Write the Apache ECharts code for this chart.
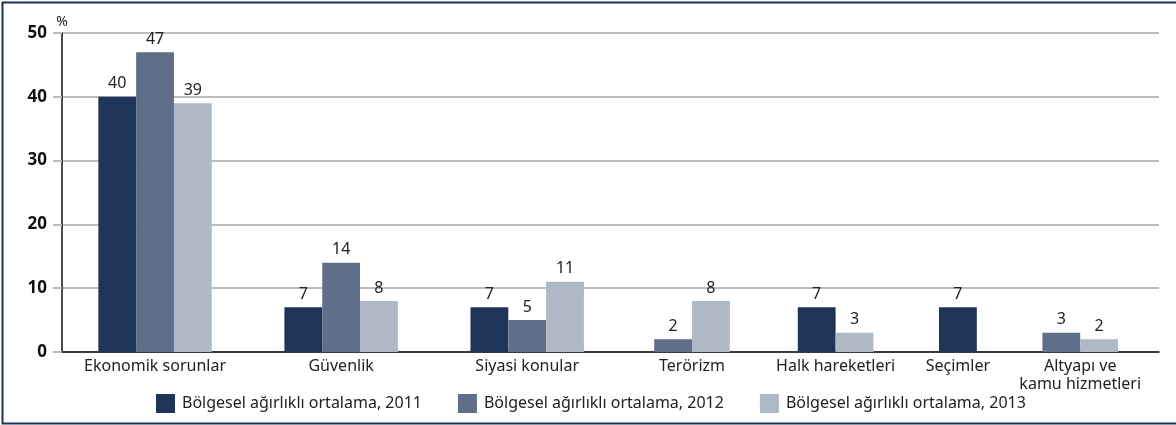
<!DOCTYPE html>
<html>
<head>
<meta charset="utf-8">
<script src="https://cdn.jsdelivr.net/npm/echarts@6/dist/echarts.min.js"></script>
<style>
html,body{margin:0;padding:0;background:#fff;}
#chart{width:1176px;height:425px;}
</style>
</head>
<body>
<div id="chart"></div>
<script>
// ---- data ----
const categories = ['Ekonomik sorunlar', 'Güvenlik', 'Siyasi konular', 'Terörizm', 'Halk hareketleri', 'Seçimler', 'Altyapı ve\nkamu hizmetleri'];
const seriesNames = ['Bölgesel ağırlıklı ortalama, 2011', 'Bölgesel ağırlıklı ortalama, 2012', 'Bölgesel ağırlıklı ortalama, 2013'];
const values2011 = [40, 7, 7, null, 7, 7, null];
const values2012 = [47, 14, 5, 2, null, null, 3];
const values2013 = [39, 8, 11, 8, 3, null, 2];
const yTicks = [0, 10, 20, 30, 40, 50];

// ---- layout (bars of a category sit side by side; empty series take no room) ----
const colors = ['#1f3459', '#5f6f8a', '#afb8c5'];
const allValues = [values2011, values2012, values2013];
const CAT_PAD = 58.5, BAR_SLOT = 42.5, BAR_W = 37.8, RIGHT_PAD = 7;
const counts = categories.map((c, i) => allValues.filter(v => v[i] != null).length);
const centers = [];
let pos = 0;
counts.forEach(n => { const w = CAT_PAD + n * BAR_SLOT; centers.push(pos + w / 2); pos += w; });
const xMax = pos + RIGHT_PAD;
const seriesData = allValues.map(() => []);
categories.forEach((c, i) => {
  const present = [];
  allValues.forEach((v, s) => { if (v[i] != null) present.push(s); });
  present.forEach((s, k) => {
    seriesData[s].push([centers[i] + (k - (present.length - 1) / 2) * BAR_W, allValues[s][i]]);
  });
});
const labelOf = {};
centers.forEach((c, i) => { labelOf[c.toFixed(3)] = categories[i]; });

const FONT = 'Noto Sans';
const chart = echarts.init(document.getElementById('chart'));
chart.setOption({
  animation: false,
  textStyle: { fontFamily: FONT },
  grid: { left: 62, right: 17, top: 33, bottom: 73, containLabel: false },
  graphic: [{
    type: 'rect', left: 0, top: 0, z: 100,
    shape: { x: 1, y: 1, width: 1180, height: 421 },
    style: { fill: 'none', stroke: '#1f3358', lineWidth: 2 }
  }],
  legend: {
    left: 156, top: 394, padding: 0, itemWidth: 19, itemHeight: 19, itemGap: 36,
    icon: 'rect',
    textStyle: { fontFamily: FONT, fontSize: 16, color: '#222', padding: [0, 0, 0, 2] },
    data: seriesNames
  },
  xAxis: {
    type: 'value', min: 0, max: xMax,
    axisLine: { show: true, lineStyle: { color: '#111', width: 1.5 } },
    axisTick: { show: false },
    splitLine: { show: false },
    axisLabel: {
      customValues: centers,
      formatter: v => labelOf[Number(v).toFixed(3)] || '',
      fontFamily: FONT, fontSize: 16, color: '#222', lineHeight: 18, margin: 5,
      align: 'center'
    }
  },
  yAxis: {
    type: 'value', min: yTicks[0], max: yTicks[yTicks.length - 1], interval: 10,
    name: '%', nameLocation: 'end', nameGap: 4,
    nameTextStyle: { fontFamily: FONT, fontSize: 14, color: '#222', align: 'center', padding: [0, 0, 0, 0] },
    axisLine: { show: true, lineStyle: { color: '#111', width: 1.5 } },
    axisTick: { show: true, length: 9, inside: false, lineStyle: { color: '#bbb', width: 2 } },
    splitLine: { show: true, lineStyle: { color: '#bdbdbd', width: 2 } },
    axisLabel: { fontFamily: FONT, fontSize: 17, fontWeight: 'bold', color: '#111', margin: 15 }
  },
  series: seriesNames.map((name, s) => ({
    name, type: 'bar', data: seriesData[s],
    barWidth: BAR_W, barGap: '-100%',
    itemStyle: { color: colors[s] },
    label: {
      show: true, position: 'top', distance: 5,
      fontFamily: FONT, fontSize: 16, color: '#222',
      formatter: p => p.value[1]
    }
  }))
});
</script>
</body>
</html>
